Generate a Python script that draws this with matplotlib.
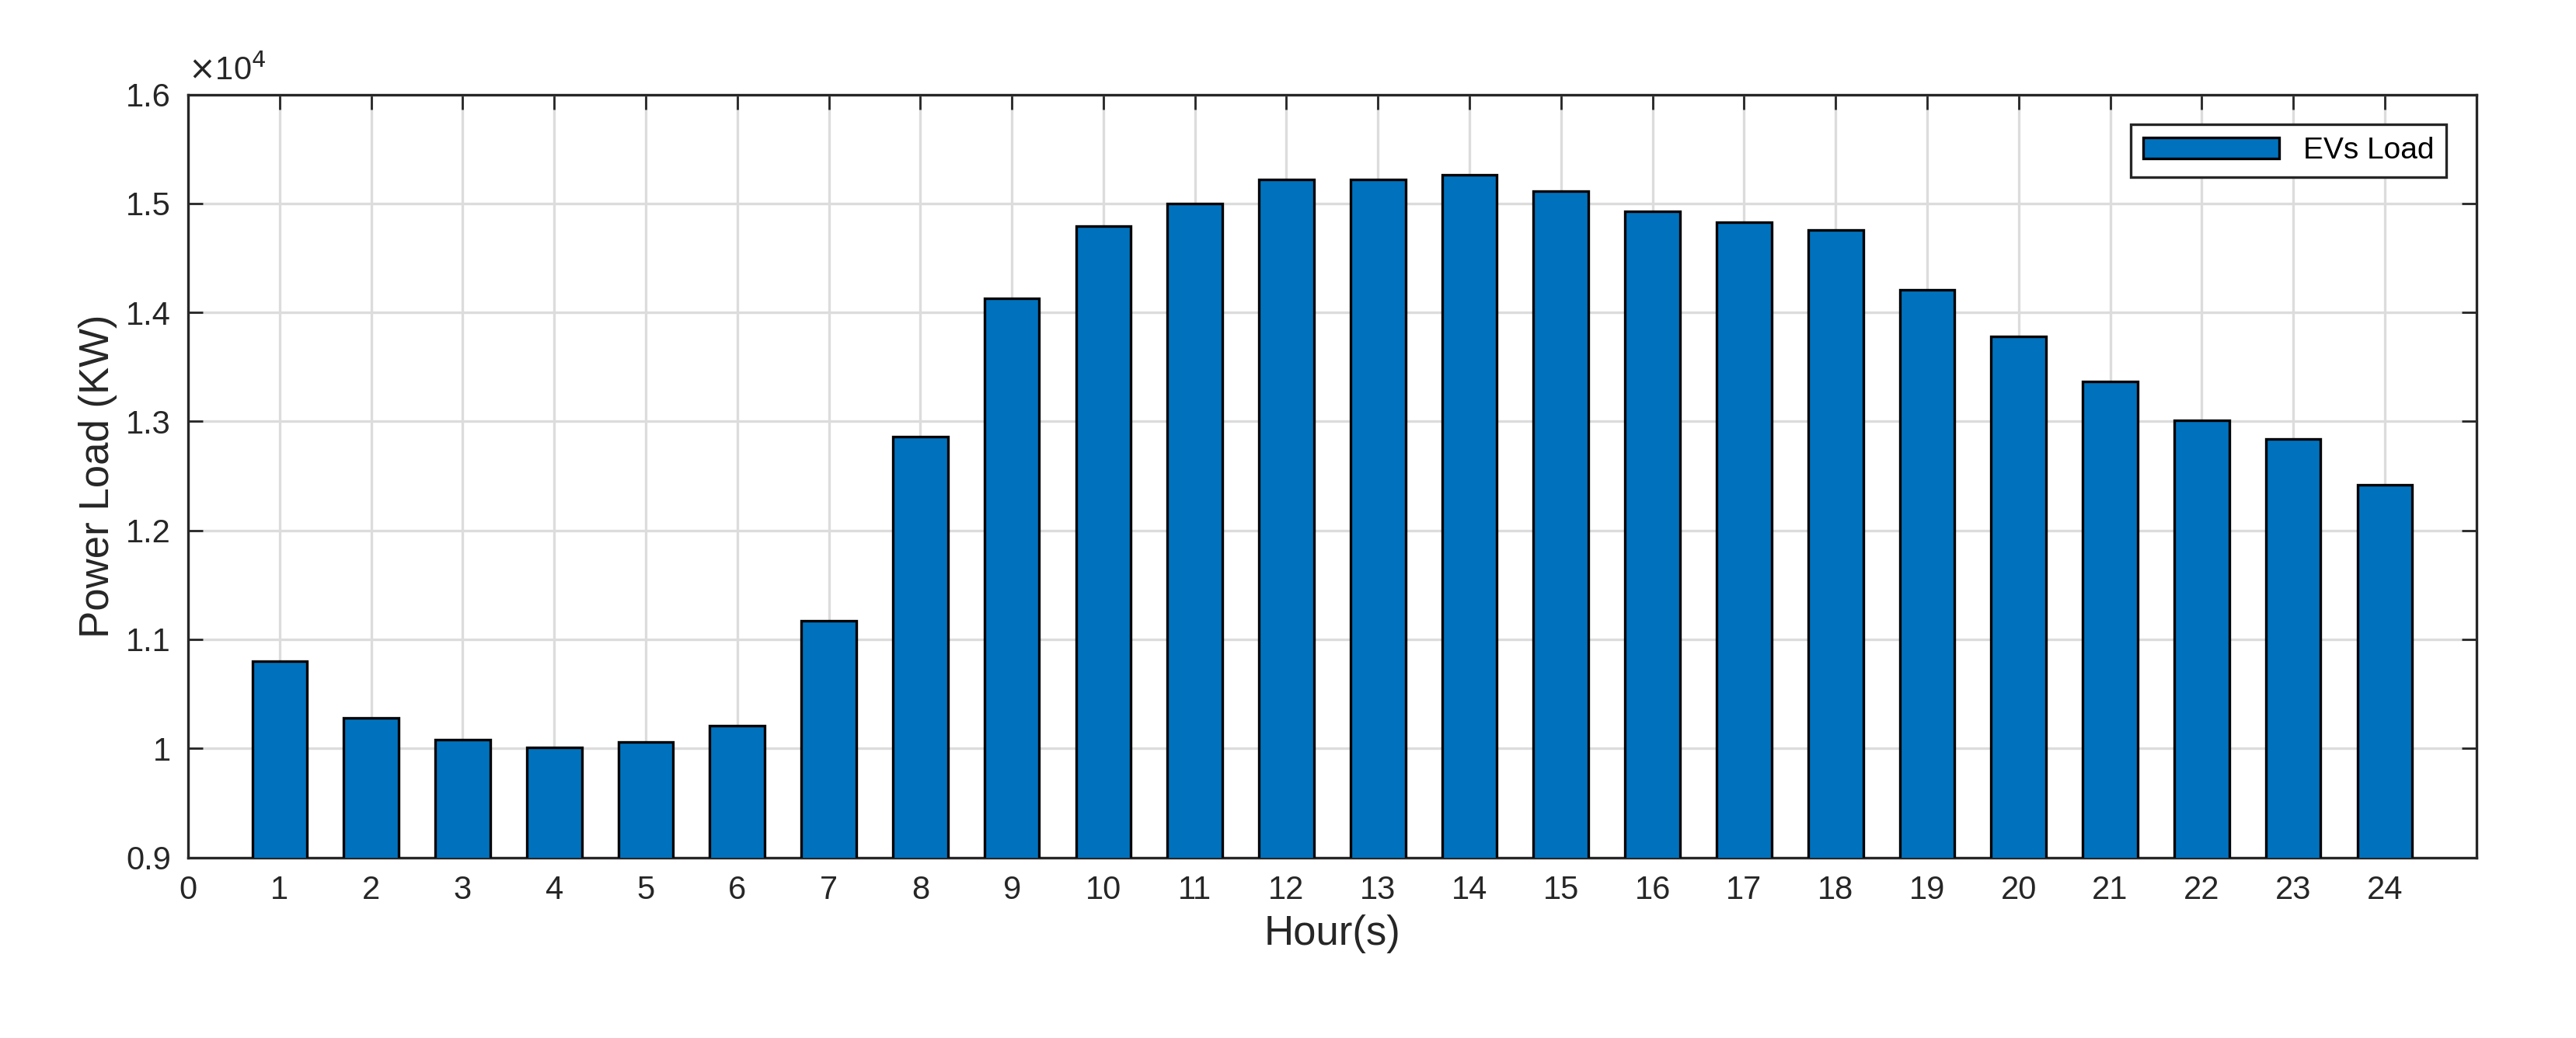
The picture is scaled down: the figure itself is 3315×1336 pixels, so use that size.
import matplotlib
matplotlib.use("Agg")
import matplotlib.pyplot as plt
import numpy as np

plt.rcParams['font.family'] = ['Liberation Sans', 'DejaVu Sans']

hours = np.arange(1, 25)
# load in units of 1e4 kW
load = [1.080, 1.028, 1.008, 1.001, 1.006, 1.021, 1.117, 1.286, 1.413, 1.479,
        1.500, 1.522, 1.522, 1.526, 1.511, 1.493, 1.483, 1.476, 1.421, 1.378,
        1.337, 1.301, 1.284, 1.242]

fig = plt.figure(figsize=(16.58, 6.68), dpi=200)
ax = fig.add_axes([0.073, 0.174, 0.888, 0.735])

ax.bar(hours, load, width=0.6, color='#0072BD', edgecolor='black',
       linewidth=1.2, label='EVs Load', zorder=3)

ax.set_xlim(0, 25)
ax.set_ylim(0.9, 1.6)
ax.set_xticks(range(0, 25))
ax.set_yticks(np.arange(0.9, 1.61, 0.1))
ax.set_yticklabels(['0.9', '1', '1.1', '1.2', '1.3', '1.4', '1.5', '1.6'])
ax.grid(True, color='#dcdcdc', linewidth=1.2, zorder=0)
ax.tick_params(direction='in', top=True, right=True, length=7, width=1,
               labelsize=15, colors='#262626', pad=8)
for s in ax.spines.values():
    s.set_color('#262626')
    s.set_linewidth(1.2)

ax.set_xlabel('Hour(s)', fontsize=19, color='#262626')
ax.set_ylabel('Power Load (KW)', fontsize=19, color='#262626')
ax.text(0.0, 1.01, r'$\times$10$^{4}$', transform=ax.transAxes, fontsize=15,
        color='#262626', ha='left', va='bottom')

leg = ax.legend(loc='upper right', fontsize=14, fancybox=False,
                edgecolor='#262626', framealpha=1, handlelength=4.5,
                borderaxespad=1.0)
leg.get_frame().set_linewidth(1.2)

fig.savefig('out.png', dpi=200)
